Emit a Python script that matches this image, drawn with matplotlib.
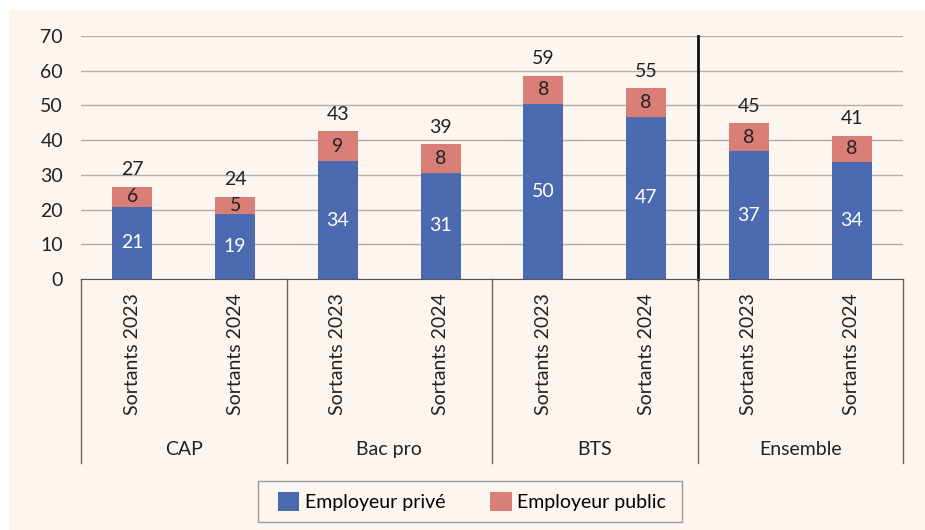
import matplotlib.pyplot as plt
from matplotlib.patches import Rectangle

# data
groups = ['CAP', 'Bac pro', 'BTS', 'Ensemble']
cohorts = ['Sortants 2023', 'Sortants 2024']
prive = [20.8, 18.6, 33.9, 30.6, 50.3, 46.7, 36.8, 33.6]
public = [5.8, 5.1, 8.7, 8.3, 8.3, 8.3, 8.0, 7.7]
yticks = [0, 10, 20, 30, 40, 50, 60, 70]

BG = '#fdf5ef'
BLUE = '#4c6ab0'
PINK = '#d97f78'
GRID = '#b3aeaa'
TXT = '#222222'

plt.rcParams['font.family'] = ['Lato', 'DejaVu Sans']
plt.rcParams['font.size'] = 14

fig = plt.figure(figsize=(9.25, 5.3), dpi=100)
fig.patch.set_facecolor('white')
fig.patches.append(Rectangle((9 / 925, 0), 1, 1 - 10 / 530, transform=fig.transFigure,
                             facecolor=BG, edgecolor='none', zorder=-10))

ax = fig.add_axes([81 / 925, 1 - 279 / 530, (903 - 81) / 925, (279 - 36) / 530])
ax.set_facecolor('none')

labels = [c for g in groups for c in cohorts]
x = list(range(len(labels)))
total = [p + q for p, q in zip(prive, public)]

b1 = ax.bar(x, prive, width=0.39, color=BLUE, zorder=3, label='Employeur privé')
b2 = ax.bar(x, public, width=0.39, bottom=prive, color=PINK, zorder=3, label='Employeur public')

for i in x:
    ax.text(i, prive[i] / 2, f'{prive[i]:.0f}', ha='center', va='center', color='white', zorder=4)
    ax.text(i, prive[i] + public[i] / 2, f'{public[i]:.0f}', ha='center', va='center', color=TXT, zorder=4)
    ax.annotate(f'{total[i]:.0f}', (i, total[i]), xytext=(0, 6), textcoords='offset points',
                ha='center', va='bottom', color=TXT)

ax.set_xlim(-0.5, len(labels) - 0.5)
ax.set_ylim(0, 70)
ax.set_yticks(yticks)
ax.yaxis.grid(True, color=GRID, lw=1, zorder=0)
ax.tick_params(axis='y', length=0, pad=13, colors=TXT)
ax.set_xticks(x)
ax.set_xticklabels(labels, rotation=90, color=TXT)
ax.tick_params(axis='x', length=0, pad=10)

for s in ['top', 'right', 'left']:
    ax.spines[s].set_visible(False)
ax.spines['bottom'].set_color('#555555')
ax.spines['bottom'].set_zorder(5)

# group box under the axis
trans = ax.get_xaxis_transform()
for xb in [-0.5, 1.5, 3.5, 5.5, 7.5]:
    ax.plot([xb, xb], [0, -0.757], transform=trans, color='#666666', lw=1, clip_on=False)
for k, g in enumerate(groups):
    ax.text(2 * k + 0.5, -0.703, g, transform=trans, ha='center', va='center', color=TXT)

# separator for Ensemble
ax.plot([5.5, 5.5], [0, 1], transform=trans, color='#111111', lw=2, zorder=5, clip_on=False)

# legend with its own wider frame
fig.patches.append(Rectangle((258 / 925, 1 - 522 / 530), 424 / 925, 41 / 530, transform=fig.transFigure,
                             facecolor=BG, edgecolor='#999999', lw=1, zorder=-5))
fig.legend(handles=[b1, b2], loc='center', bbox_to_anchor=(472 / 925, 1 - 501.5 / 530),
           ncol=2, frameon=False, handlelength=1.1, handleheight=1.1, columnspacing=2.3,
           handletextpad=0.3, borderaxespad=0)

fig.savefig('out.png', dpi=100, facecolor=fig.get_facecolor())
